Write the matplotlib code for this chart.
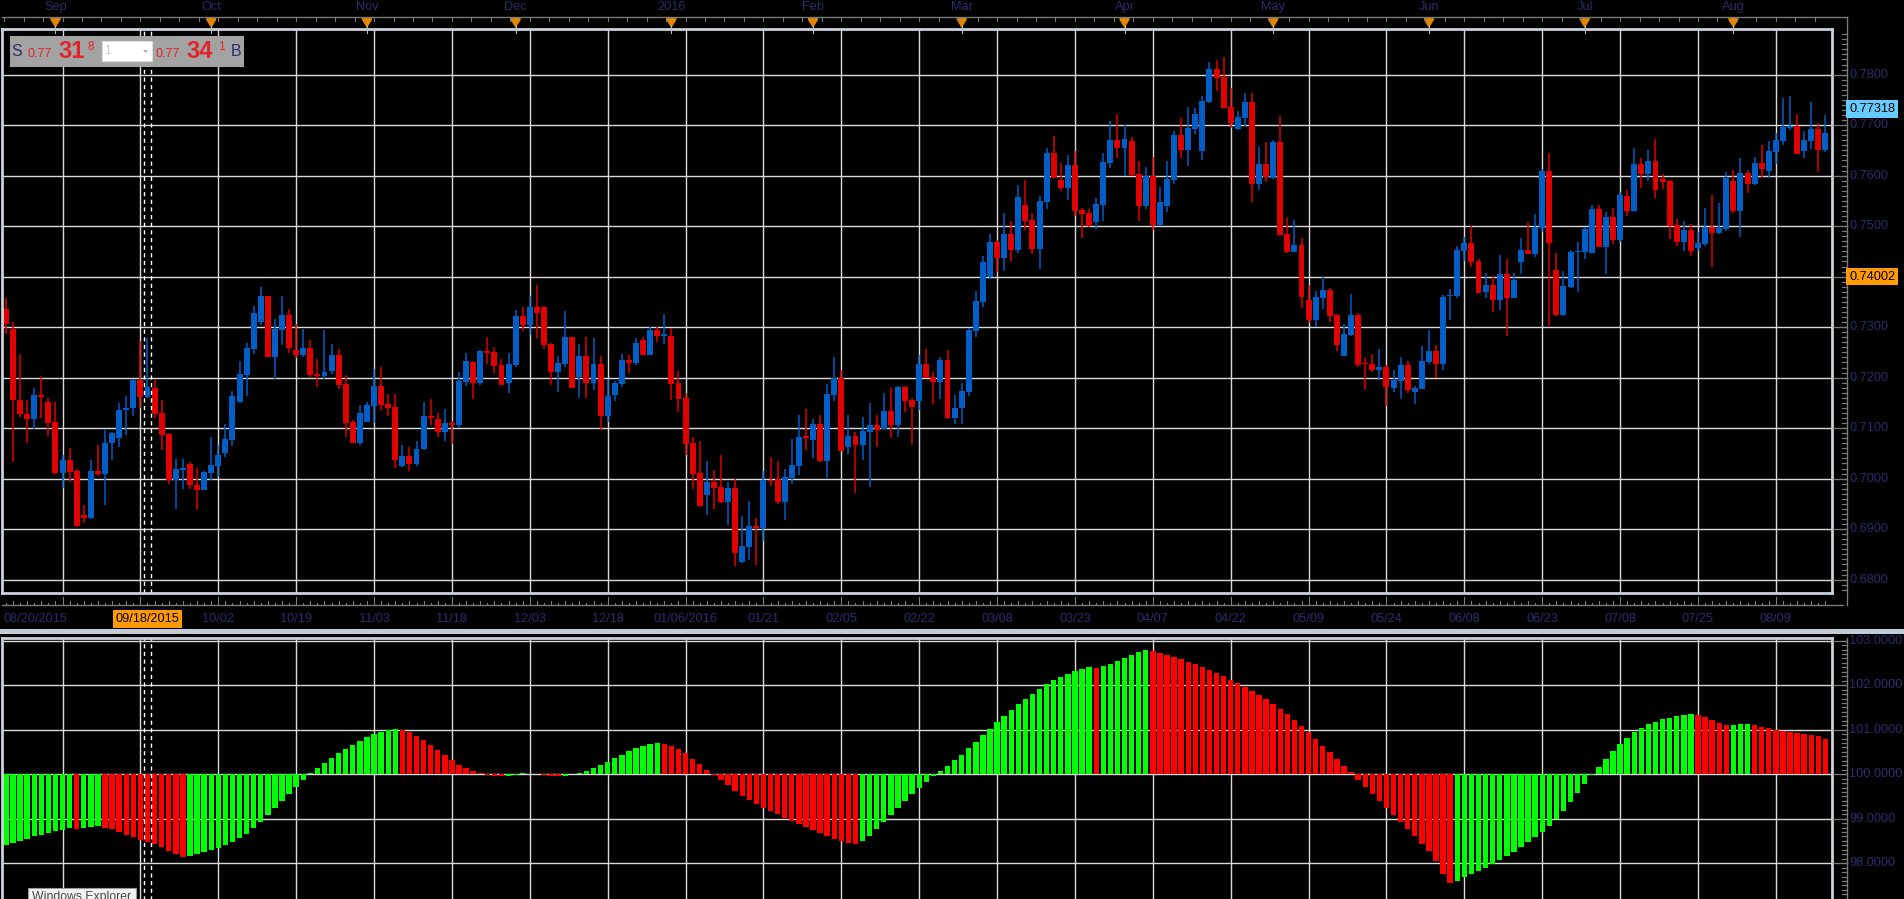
import numpy as np
import pandas as pd
import matplotlib
matplotlib.use("Agg")
import matplotlib.pyplot as plt
from matplotlib.transforms import blended_transform_factory as blend
from matplotlib.patches import Rectangle, Polygon

plt.rcParams['font.family'] = ['Liberation Sans', 'DejaVu Sans']

# ---------------- data (prices in 1e-4 units) ----------------
first_date = "2015-08-20"
holidays = ["2015-12-25", "2016-01-01"]

open_ = [7345,7336,7297,7156,7128,7119,7166,7152,7112,
7012,7037,7016,6927,6922,7016,7010,7070,7080,7135,
7139,7195,7162,7180,7130,7089,6997,7018,7028,6988,
6978,7012,7024,7051,7077,7151,7205,7257,7310,7361,
7241,7294,7324,7255,7245,7259,7207,7203,7213,7245,
7187,7112,7071,7113,7144,7184,7148,7142,7024,7045,
7028,7058,7124,7118,7093,7110,7107,7191,7231,7190,
7253,7251,7225,7190,7225,7322,7304,7340,7340,7266,
7211,7227,7280,7201,7243,7190,7227,7124,7166,7188,
7235,7229,7274,7245,7294,7282,7282,7190,7160,7071,
7012,6968,6994,6984,6953,6982,6834,6864,6907,6903,
6998,7000,6953,7002,7024,7083,7077,7109,7035,7166,
7199,7063,7085,7067,7093,7107,7099,7134,7107,7182,
7156,7154,7227,7201,7192,7235,7121,7139,7172,7293,
7350,7399,7468,7437,7484,7453,7542,7512,7455,7548,
7644,7591,7576,7621,7532,7526,7508,7542,7625,7670,
7654,7668,7603,7540,7599,7502,7540,7591,7680,7650,
7692,7648,7745,7812,7795,7735,7692,7714,7745,7583,
7623,7595,7666,7484,7449,7462,7354,7314,7358,7373,
7324,7243,7284,7324,7228,7227,7215,7221,7180,7194,
7224,7172,7178,7230,7253,7226,7362,7362,7451,7467,
7430,7370,7384,7354,7406,7358,7428,7453,7445,7497,
7610,7414,7323,7380,7449,7449,7447,7534,7459,7519,
7473,7560,7529,7622,7604,7629,7594,7590,7503,7469,
7493,7457,7465,7499,7487,7495,7590,7530,7606,7584,
7625,7610,7647,7669,7695,7699,7649,7669,7693,7651]

high = [7350,7357,7310,7247,7155,7180,7203,7159,7152,
7047,7061,7020,6947,7037,7067,7097,7093,7150,7164,
7197,7272,7278,7195,7156,7091,7039,7039,7033,7021,
7015,7083,7066,7109,7174,7233,7268,7341,7379,7362,
7316,7361,7336,7306,7296,7274,7237,7294,7266,7257,
7205,7116,7146,7152,7217,7221,7168,7168,7067,7063,
7075,7152,7158,7130,7138,7114,7211,7249,7232,7255,
7280,7260,7237,7249,7334,7340,7361,7383,7341,7268,
7243,7332,7281,7266,7280,7278,7243,7197,7193,7247,
7245,7278,7280,7300,7300,7326,7298,7213,7170,7083,
7075,7034,7018,7047,6994,7000,6925,6955,6923,7016,
7043,7034,7020,7079,7126,7138,7118,7126,7187,7241,
7215,7126,7093,7122,7150,7126,7170,7180,7184,7183,
7160,7245,7257,7211,7241,7255,7166,7190,7298,7371,
7441,7484,7472,7526,7510,7581,7591,7526,7559,7654,
7678,7625,7640,7648,7536,7534,7555,7644,7708,7722,
7700,7676,7629,7617,7636,7577,7629,7688,7714,7735,
7733,7757,7824,7828,7834,7773,7727,7763,7763,7656,
7666,7670,7718,7516,7512,7476,7383,7371,7399,7377,
7325,7306,7366,7328,7239,7247,7257,7225,7216,7240,
7232,7184,7263,7295,7265,7364,7376,7461,7479,7501,
7435,7408,7402,7443,7435,7408,7477,7509,7523,7614,
7645,7447,7412,7453,7469,7499,7542,7542,7527,7536,
7568,7572,7655,7635,7651,7673,7604,7591,7515,7511,
7505,7489,7536,7562,7546,7608,7612,7635,7612,7637,
7661,7669,7685,7754,7758,7722,7689,7746,7705,7720]

low = [7333,7287,7032,7122,7070,7099,7121,7084,7010,
6982,6993,6904,6912,6920,7006,6947,7036,7063,7086,
7123,7139,7160,7121,7057,6989,6939,6979,6979,6937,
6977,6998,7003,7042,7065,7150,7164,7247,7304,7240,
7198,7264,7249,7239,7241,7201,7182,7197,7207,7178,
7082,7070,7067,7112,7111,7136,7124,7022,7023,7016,
7024,7057,7107,7082,7074,7069,7101,7184,7158,7186,
7227,7209,7185,7170,7221,7292,7284,7278,7257,7186,
7172,7221,7179,7160,7160,7176,7097,7112,7154,7182,
7209,7225,7244,7244,7270,7266,7156,7132,7047,6980,
6944,6927,6939,6951,6909,6826,6833,6838,6828,6876,
6986,6949,6919,6990,7008,7057,7041,7033,7002,7154,
7054,7049,6972,7037,6984,7063,7098,7081,7082,7132,
7069,7136,7199,7147,7157,7119,7109,7109,7163,7281,
7340,7395,7410,7412,7428,7447,7493,7445,7416,7534,
7595,7570,7552,7520,7477,7498,7494,7510,7615,7635,
7599,7600,7510,7534,7492,7501,7528,7583,7635,7619,
7682,7631,7744,7767,7732,7694,7691,7698,7547,7571,
7587,7593,7481,7447,7448,7338,7308,7300,7336,7310,
7253,7242,7282,7221,7176,7211,7196,7144,7172,7158,
7170,7147,7177,7226,7200,7216,7315,7358,7430,7420,
7367,7358,7329,7333,7283,7357,7406,7444,7439,7489,
7303,7322,7322,7378,7370,7435,7446,7458,7406,7465,
7469,7521,7528,7576,7590,7556,7574,7475,7461,7451,
7441,7451,7461,7420,7485,7491,7526,7479,7566,7582,
7596,7596,7622,7661,7691,7642,7635,7653,7608,7647]

close = [7335,7306,7155,7127,7119,7166,7162,7111,7012,
7037,7014,6906,6922,7016,7010,7071,7091,7136,7140,
7195,7162,7182,7128,7087,6997,7020,7020,6987,6978,
7014,7026,7047,7079,7164,7207,7259,7328,7361,7241,
7296,7324,7259,7245,7259,7205,7203,7211,7245,7186,
7111,7071,7130,7146,7184,7146,7140,7036,7045,7028,
7059,7124,7120,7093,7110,7107,7193,7233,7190,7253,
7249,7223,7186,7227,7322,7304,7340,7328,7264,7211,
7229,7280,7180,7243,7190,7227,7124,7164,7190,7235,
7229,7268,7245,7294,7282,7286,7187,7158,7069,7010,
6945,6994,6982,6953,6982,6852,6866,6907,6903,6998,
6995,6953,7004,7026,7083,7081,7109,7035,7168,7199,
7055,7085,7067,7095,7107,7097,7134,7107,7182,7154,
7142,7227,7200,7192,7235,7121,7140,7174,7294,7352,
7429,7468,7437,7484,7453,7557,7510,7455,7549,7644,
7596,7576,7621,7530,7524,7500,7544,7627,7670,7654,
7672,7601,7540,7599,7502,7547,7593,7680,7650,7694,
7722,7747,7812,7793,7733,7704,7716,7745,7583,7623,
7597,7666,7482,7449,7462,7360,7314,7360,7373,7322,
7265,7286,7324,7225,7226,7215,7221,7182,7196,7224,
7176,7180,7232,7253,7226,7360,7364,7453,7467,7428,
7368,7384,7354,7406,7358,7394,7453,7445,7499,7610,
7467,7323,7382,7449,7451,7495,7534,7459,7519,7473,
7562,7529,7622,7604,7629,7572,7588,7501,7469,7493,
7451,7467,7499,7487,7497,7596,7530,7606,7584,7625,
7614,7649,7671,7697,7699,7643,7671,7693,7651,7685]

osc = [98.35,98.40,98.45,98.50,98.55,98.60,98.64,98.68,98.72,98.75,98.78,98.76,98.79,98.81,98.83,
98.80,98.76,98.70,98.64,98.58,98.52,98.47,98.42,98.36,98.28,98.20,98.14,
98.17,98.20,98.24,98.29,98.34,98.40,98.47,98.56,98.66,98.78,98.92,99.08,99.24,99.40,99.56,99.72,
99.87,100.02,100.14,100.26,100.37,100.47,100.57,100.66,100.75,100.83,100.90,100.95,100.99,101.02,
101.00,100.94,100.86,100.77,100.66,100.54,100.42,100.31,100.21,100.13,100.07,
100.03,99.98,99.96,99.95,99.97,99.99,100.02,100.01,100.00,99.98,99.96,99.95,99.97,100.00,100.03,
100.07,100.13,100.20,100.28,100.36,100.44,100.52,100.58,100.63,100.67,100.69,
100.68,100.64,100.57,100.47,100.35,100.22,100.10,99.98,99.86,99.75,99.63,99.52,99.42,99.33,
99.25,99.17,99.10,99.02,98.95,98.88,98.81,98.74,98.67,98.60,98.54,98.49,98.45,98.42,
98.50,98.62,98.76,98.92,99.08,99.24,99.40,99.55,99.69,99.82,99.95,100.07,100.19,100.31,
100.44,100.58,100.72,100.87,101.02,101.17,101.31,101.45,101.58,101.70,101.81,101.92,102.02,
102.11,102.19,102.26,102.32,102.37,102.41,102.39,102.42,102.48,102.55,102.62,102.68,102.74,102.80,
102.76,102.72,102.68,102.63,102.58,102.53,102.47,102.41,102.35,102.28,102.20,102.12,102.04,
101.96,101.87,101.78,101.68,101.58,101.47,101.35,101.22,101.08,100.94,100.79,100.64,100.49,
100.34,100.19,100.04,99.88,99.72,99.56,99.40,99.24,99.08,98.92,98.76,98.60,98.44,98.28,
98.05,97.75,97.55,
97.60,97.68,97.75,97.82,97.90,97.98,98.07,98.16,98.26,98.36,98.47,98.58,98.70,98.84,99.00,
99.18,99.38,99.58,99.78,99.98,100.17,100.35,100.52,100.68,100.82,100.94,101.04,101.12,101.18,
101.23,101.27,101.31,101.34,101.36,
101.33,101.28,101.22,101.16,101.10,101.11,101.12,101.13,101.10,101.07,101.03,100.99,100.96,
100.94,100.92,100.90,100.88,100.85,100.78]

month_labels = ["Sep", "Oct", "Nov", "Dec", "2016", "Feb", "Mar", "Apr", "May", "Jun", "Jul", "Aug"]
date_labels = ["10/02", "10/19", "11/03", "11/18", "12/03", "12/18", "01/06/2016", "01/21",
               "02/05", "02/22", "03/08", "03/23", "04/07", "04/22", "05/09", "05/24",
               "06/08", "06/23", "07/08", "07/25", "08/09"]
first_label = "08/20/2015"
cross_label = "09/18/2015"
price_ticks = [0.68, 0.69, 0.70, 0.71, 0.72, 0.73, 0.74, 0.75, 0.76, 0.77, 0.78]
osc_ticks = [98, 99, 100, 101, 102, 103]
last_marker = 0.77318
cross_price = 0.74002
bid_ask = ["S", "0.77", "31", "8", "1", "0.77", "34", "1", "B"]

# ---------------- derived ----------------
n = len(close)
o = np.array(open_) / 1e4
h = np.array(high) / 1e4
l = np.array(low) / 1e4
c = np.array(close) / 1e4
dates = pd.bdate_range(first_date, periods=n + 10)
dates = dates[~dates.isin(pd.to_datetime(holidays))][:n]
xs = np.arange(n) - 9           # bar index, 0 = first grid bar
grid_x = np.arange(0, xs[-1] + 1, 11)
cross_i = xs[list(dates).index(pd.Timestamp("2015-09-18"))]
months = dates.to_period("M")
month_x = [xs[k] for k in range(1, n) if months[k] != months[k - 1]]

BG = "black"
NAVY = "#2c2c6c"
FRAME = "#c9d1db"
GRID = "#dadada"
RED = "#e00000"
BLUE = "#005ec6"
GREEN_H = "#00ff00"
RED_H = "#ff0000"
ORANGE = "#ff9a00"
TRI = "#e08600"
TICKC = "#7a7a7a"

W, H = 1904, 899
fig = plt.figure(figsize=(W / 100, H / 100), dpi=100)
fig.patch.set_facecolor(BG)


def rect(lft, top, rgt, bot):
    return [lft / W, 1 - bot / H, (rgt - lft) / W, (bot - top) / H]


X0, X1 = -8.55, 249.93
ax = fig.add_axes(rect(2, 29, 1832, 593))
ax.set_xlim(X0, X1)
ax.set_ylim(0.67735, 0.78903)
ax2 = fig.add_axes(rect(2, 638, 1832, 905))
ax2.set_xlim(X0, X1)
ax2.set_ylim(97.06, 103.06)
ov = fig.add_axes([0, 0, 1, 1], zorder=10)
ov.set_xlim(0, W)
ov.set_ylim(H, 0)
ov.axis("off")

for a in (ax, ax2):
    a.set_facecolor(BG)
    a.set_xticks([])
    a.set_yticks([])
    for g in grid_x:
        a.axvline(g, color=GRID, lw=1.0, zorder=1)
    for s in a.spines.values():
        s.set_color(FRAME)
        s.set_linewidth(2.0)
        s.set_zorder(6)
for p in price_ticks:
    ax.axhline(p, color=GRID, lw=1.0, zorder=1)
for v in osc_ticks:
    ax2.axhline(v, color=GRID, lw=1.0, zorder=1)

# crosshair
for a in (ax, ax2):
    for dx in (-0.5, 0.5):
        a.axvline(cross_i + dx, color="white", lw=1.0, ls=(0, (3, 2.5)), zorder=5)

# candles
col = np.where(c < o, RED, BLUE)
ax.vlines(xs, l, h, colors=col, lw=1.1, zorder=3)
ax.bar(xs, np.maximum(np.abs(c - o), 0.00025), bottom=np.minimum(o, c), width=0.84,
       color=col, linewidth=0, zorder=4)

# oscillator histogram
ov_v = np.array(osc)
hcol = np.where(np.diff(ov_v, prepend=ov_v[0] - 0.01) > 0, GREEN_H, RED_H)
ax2.bar(xs, ov_v - 100, bottom=100, width=0.76, color=hcol, linewidth=0, zorder=3)

T_main = blend(ov.transData, ax.transData)
T_low = blend(ov.transData, ax2.transData)
T_bar = blend(ax.transData, ov.transData)

# ---- right tick strip ----
ov.plot([1847, 1847], [17, 605], color=TICKC, lw=1.0)
ov.plot([1847, 1847], [638, 899], color=TICKC, lw=1.0)
for p in np.arange(0.678, 0.789, 0.001):
    ov.plot([1842, 1847], [p, p], color=TICKC, lw=0.9, transform=T_main)
for p in price_ticks:
    ov.plot([1833, 1847], [p, p], color=TICKC, lw=0.9, transform=T_main)
    if abs(p - cross_price) > 0.001 and abs(p - last_marker) > 0.001:
        ov.text(1849, p, f"{p:.4f}", transform=T_main, color=NAVY, fontsize=9.2,
                ha="left", va="center")
for v in np.arange(97.2, 103.06, 0.1):
    ov.plot([1842, 1847], [v, v], color=TICKC, lw=0.9, transform=T_low)
for v in osc_ticks:
    ov.plot([1833, 1847], [v, v], color=TICKC, lw=0.9, transform=T_low)
    ov.text(1849, v, f"{v:.4f}", transform=T_low, color=NAVY, fontsize=9.2,
            ha="left", va="center")

for val, fc in ((last_marker, "#66ccff"), (cross_price, ORANGE)):
    ov.text(1849, val, f"{val:.5f}", transform=T_main, color="black", fontsize=9.2,
            ha="left", va="center", zorder=12,
            bbox=dict(boxstyle="square,pad=0.22", fc=fc, ec="none"))

# ---- top month strip ----
ov.plot([2, 1847], [17, 17], color=TICKC, lw=1.0)
for t in np.arange(X0 + 0.3, X1, 2.75):
    ov.plot([t, t], [17, 21], color=TICKC, lw=0.8, transform=T_bar)
for mx, lab in zip(month_x, month_labels):
    ov.text(mx, 7, lab, transform=T_bar, color=NAVY, fontsize=9.2, ha="center", va="center")
    ov.plot([mx, mx], [26, 33], color="#bbbbbb", lw=0.8, transform=T_bar)
    px = ax.transData.transform((mx, 0))[0]
    ov.add_patch(Polygon([[px - 5, 17], [px + 5, 17], [px + 5, 20], [px, 28], [px - 5, 20]],
                         closed=True, fc=TRI, ec="none"))

# ---- bottom date strip ----
ov.plot([2, 1843], [605, 605], color=TICKC, lw=1.0)
for t in np.arange(-8, X1, 1):
    ov.plot([t, t], [605, 601 if int(t) % 2 else 603], color=TICKC, lw=0.8, transform=T_bar)
for g in grid_x:
    ov.plot([g, g], [597, 605], color=TICKC, lw=0.8, transform=T_bar)
for g, lab in zip(grid_x[2:], date_labels):
    ov.text(g, 619, lab, transform=T_bar, color=NAVY, fontsize=9.2, ha="center", va="center")
ov.text(3, 619, first_label, color=NAVY, fontsize=9.2, ha="left", va="center")
ov.text(cross_i, 619, cross_label, transform=T_bar, color="black", fontsize=9.2,
        ha="center", va="center", bbox=dict(boxstyle="square,pad=0.2", fc=ORANGE, ec="none"))

# panel separator
ov.add_patch(Rectangle((0, 629), W, 4.5, fc="#c3ccd7", ec="none"))

# ---- bid / ask box ----
ov.add_patch(Rectangle((10, 36), 234, 31, fc="#a3a3a3", ec="none"))
ov.add_patch(Rectangle((102, 41), 50, 20, fc="white", ec="#dddddd", lw=0.8))
ov.text(11, 52, bid_ask[0], color=NAVY, fontsize=11.5, va="center", ha="left")
ov.text(28, 54, bid_ask[1], color="#e3242b", fontsize=9, va="center", ha="left")
ov.text(58, 52, bid_ask[2], color="#e3242b", fontsize=17, fontweight="bold", va="center", ha="left")
ov.text(88, 47, bid_ask[3], color="#e3242b", fontsize=8.5, va="center", ha="left")
ov.text(104, 51, bid_ask[4], color="#c8c8c8", fontsize=9, va="center", ha="left")
ov.add_patch(Polygon([[143, 50], [148, 50], [145.5, 53]], closed=True, fc="#b0b0b0", ec="none"))
ov.text(155, 54, bid_ask[5], color="#e3242b", fontsize=9, va="center", ha="left")
ov.text(186, 52, bid_ask[6], color="#e3242b", fontsize=17, fontweight="bold", va="center", ha="left")
ov.text(218, 47, bid_ask[7], color="#e3242b", fontsize=8.5, va="center", ha="left")
ov.text(231, 52, bid_ask[8], color=NAVY, fontsize=11.5, va="center", ha="left")

# tooltip at the bottom
ov.add_patch(Rectangle((28, 888), 108, 20, fc="#f3f3f3", ec="#9a9a9a", lw=0.8))
ov.text(32, 891, "Windows Explorer", color="#454545", fontsize=8.8, ha="left", va="top")

fig.savefig("out.png", dpi=100, facecolor=BG)
